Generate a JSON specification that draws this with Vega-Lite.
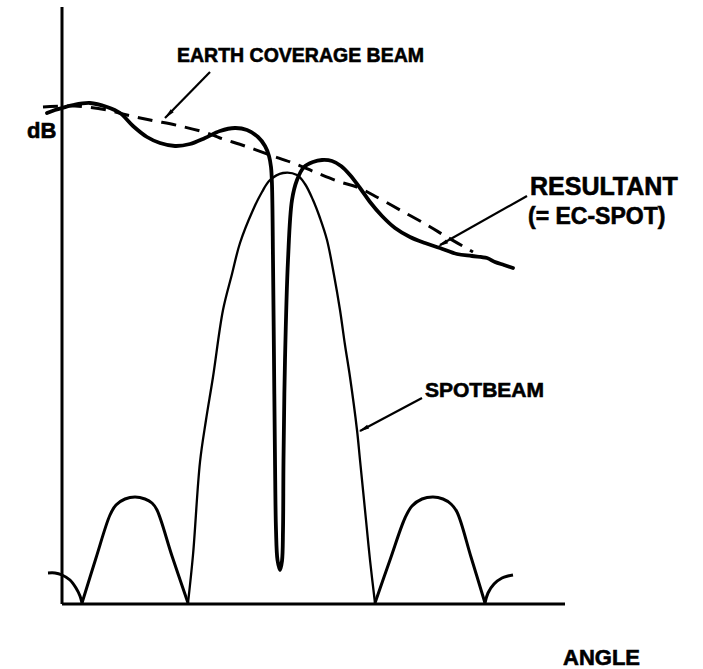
{
  "$schema": "https://vega.github.io/schema/vega-lite/v6.json",
  "width": 703,
  "height": 669,
  "autosize": {"type": "fit", "contains": "padding"},
  "padding": 0,
  "background": "white",
  "config": {"view": {"stroke": null}},
  "datasets": {
    "axes": [
      {"x": 62, "y": 7, "x2": 62, "y2": 604},
      {"x": 62, "y": 604, "x2": 565, "y2": 604}
    ],
    "curves": [
      {"s": "earth", "i": 1, "x": 43, "y": 107},
      {"s": "earth", "i": 2, "x": 75, "y": 106},
      {"s": "earth", "i": 3, "x": 107, "y": 110},
      {"s": "earth", "i": 4, "x": 127, "y": 115},
      {"s": "earth", "i": 5, "x": 150, "y": 120},
      {"s": "earth", "i": 6, "x": 180, "y": 126},
      {"s": "earth", "i": 7, "x": 207, "y": 133},
      {"s": "earth", "i": 8, "x": 220, "y": 138},
      {"s": "earth", "i": 9, "x": 245, "y": 146},
      {"s": "earth", "i": 10, "x": 270, "y": 155},
      {"s": "earth", "i": 11, "x": 293, "y": 163},
      {"s": "earth", "i": 12, "x": 317, "y": 173},
      {"s": "earth", "i": 13, "x": 340, "y": 182},
      {"s": "earth", "i": 14, "x": 357, "y": 187},
      {"s": "earth", "i": 15, "x": 373, "y": 195},
      {"s": "earth", "i": 16, "x": 400, "y": 210},
      {"s": "earth", "i": 17, "x": 427, "y": 225},
      {"s": "earth", "i": 18, "x": 447, "y": 237},
      {"s": "earth", "i": 19, "x": 473, "y": 252},

      {"s": "resultant", "i": 1, "x": 47, "y": 113},
      {"s": "resultant", "i": 2, "x": 55, "y": 110},
      {"s": "resultant", "i": 3, "x": 62, "y": 108},
      {"s": "resultant", "i": 4, "x": 73, "y": 105},
      {"s": "resultant", "i": 5, "x": 90, "y": 103},
      {"s": "resultant", "i": 6, "x": 107, "y": 107},
      {"s": "resultant", "i": 7, "x": 120, "y": 113},
      {"s": "resultant", "i": 8, "x": 133, "y": 126},
      {"s": "resultant", "i": 9, "x": 147, "y": 137},
      {"s": "resultant", "i": 10, "x": 160, "y": 143},
      {"s": "resultant", "i": 11, "x": 175, "y": 146},
      {"s": "resultant", "i": 12, "x": 190, "y": 144},
      {"s": "resultant", "i": 13, "x": 205, "y": 138},
      {"s": "resultant", "i": 14, "x": 220, "y": 131},
      {"s": "resultant", "i": 15, "x": 235, "y": 128},
      {"s": "resultant", "i": 16, "x": 247, "y": 130},
      {"s": "resultant", "i": 17, "x": 258, "y": 137},
      {"s": "resultant", "i": 18, "x": 265, "y": 146},
      {"s": "resultant", "i": 19, "x": 269, "y": 156},
      {"s": "resultant", "i": 20, "x": 271, "y": 167},
      {"s": "resultant", "i": 21, "x": 272, "y": 185},
      {"s": "resultant", "i": 22, "x": 273, "y": 260},
      {"s": "resultant", "i": 23, "x": 274, "y": 360},
      {"s": "resultant", "i": 24, "x": 275, "y": 460},
      {"s": "resultant", "i": 25, "x": 276, "y": 530},
      {"s": "resultant", "i": 26, "x": 277.5, "y": 560},
      {"s": "resultant", "i": 27, "x": 280, "y": 570},
      {"s": "resultant", "i": 28, "x": 282, "y": 561},
      {"s": "resultant", "i": 29, "x": 283, "y": 530},
      {"s": "resultant", "i": 30, "x": 283.5, "y": 460},
      {"s": "resultant", "i": 31, "x": 285, "y": 360},
      {"s": "resultant", "i": 32, "x": 288, "y": 260},
      {"s": "resultant", "i": 33, "x": 292, "y": 200},
      {"s": "resultant", "i": 34, "x": 297, "y": 180},
      {"s": "resultant", "i": 35, "x": 304, "y": 167},
      {"s": "resultant", "i": 36, "x": 313, "y": 162},
      {"s": "resultant", "i": 37, "x": 322, "y": 160},
      {"s": "resultant", "i": 38, "x": 332, "y": 161},
      {"s": "resultant", "i": 39, "x": 341, "y": 166},
      {"s": "resultant", "i": 40, "x": 350, "y": 175},
      {"s": "resultant", "i": 41, "x": 360, "y": 188},
      {"s": "resultant", "i": 42, "x": 370, "y": 202},
      {"s": "resultant", "i": 43, "x": 382, "y": 216},
      {"s": "resultant", "i": 44, "x": 395, "y": 228},
      {"s": "resultant", "i": 45, "x": 410, "y": 237},
      {"s": "resultant", "i": 46, "x": 425, "y": 243},
      {"s": "resultant", "i": 47, "x": 440, "y": 248},
      {"s": "resultant", "i": 48, "x": 457, "y": 254},
      {"s": "resultant", "i": 49, "x": 472, "y": 256},
      {"s": "resultant", "i": 50, "x": 487, "y": 258},
      {"s": "resultant", "i": 51, "x": 495, "y": 262},
      {"s": "resultant", "i": 52, "x": 504, "y": 265},
      {"s": "resultant", "i": 53, "x": 513, "y": 268},

      {"s": "spot", "i": 1, "x": 188, "y": 603},
      {"s": "spot", "i": 2, "x": 193, "y": 555},
      {"s": "spot", "i": 3, "x": 200, "y": 462},
      {"s": "spot", "i": 4, "x": 206, "y": 420},
      {"s": "spot", "i": 5, "x": 213, "y": 377},
      {"s": "spot", "i": 6, "x": 223, "y": 310},
      {"s": "spot", "i": 7, "x": 232, "y": 274},
      {"s": "spot", "i": 8, "x": 240, "y": 243},
      {"s": "spot", "i": 9, "x": 253, "y": 210},
      {"s": "spot", "i": 10, "x": 262, "y": 192},
      {"s": "spot", "i": 11, "x": 270, "y": 180},
      {"s": "spot", "i": 12, "x": 283, "y": 173},
      {"s": "spot", "i": 13, "x": 297, "y": 175},
      {"s": "spot", "i": 14, "x": 305, "y": 184},
      {"s": "spot", "i": 15, "x": 313, "y": 200},
      {"s": "spot", "i": 16, "x": 320, "y": 218},
      {"s": "spot", "i": 17, "x": 327, "y": 240},
      {"s": "spot", "i": 18, "x": 334, "y": 275},
      {"s": "spot", "i": 19, "x": 340, "y": 310},
      {"s": "spot", "i": 20, "x": 345, "y": 345},
      {"s": "spot", "i": 21, "x": 350, "y": 377},
      {"s": "spot", "i": 22, "x": 357, "y": 430},
      {"s": "spot", "i": 23, "x": 360, "y": 460},
      {"s": "spot", "i": 24, "x": 366, "y": 520},
      {"s": "spot", "i": 25, "x": 370, "y": 560},
      {"s": "spot", "i": 26, "x": 375, "y": 603},

      {"s": "side1", "i": 1, "x": 82, "y": 603},
      {"s": "side1", "i": 2, "x": 96, "y": 558},
      {"s": "side1", "i": 3, "x": 110, "y": 515},
      {"s": "side1", "i": 4, "x": 116, "y": 505},
      {"s": "side1", "i": 5, "x": 125, "y": 499},
      {"s": "side1", "i": 6, "x": 135, "y": 497},
      {"s": "side1", "i": 7, "x": 145, "y": 499},
      {"s": "side1", "i": 8, "x": 152, "y": 503},
      {"s": "side1", "i": 9, "x": 157, "y": 510},
      {"s": "side1", "i": 10, "x": 172, "y": 556},
      {"s": "side1", "i": 11, "x": 188, "y": 603},

      {"s": "side2", "i": 1, "x": 375, "y": 603},
      {"s": "side2", "i": 2, "x": 390, "y": 560},
      {"s": "side2", "i": 3, "x": 405, "y": 518},
      {"s": "side2", "i": 4, "x": 412, "y": 506},
      {"s": "side2", "i": 5, "x": 422, "y": 499},
      {"s": "side2", "i": 6, "x": 433, "y": 497},
      {"s": "side2", "i": 7, "x": 443, "y": 499},
      {"s": "side2", "i": 8, "x": 451, "y": 504},
      {"s": "side2", "i": 9, "x": 457, "y": 512},
      {"s": "side2", "i": 10, "x": 471, "y": 557},
      {"s": "side2", "i": 11, "x": 485, "y": 603},

      {"s": "arc1", "i": 1, "x": 48, "y": 573},
      {"s": "arc1", "i": 2, "x": 55, "y": 573},
      {"s": "arc1", "i": 3, "x": 62, "y": 575},
      {"s": "arc1", "i": 4, "x": 70, "y": 580},
      {"s": "arc1", "i": 5, "x": 76, "y": 588},
      {"s": "arc1", "i": 6, "x": 80, "y": 596},
      {"s": "arc1", "i": 7, "x": 82, "y": 603},

      {"s": "arc2", "i": 1, "x": 485, "y": 603},
      {"s": "arc2", "i": 2, "x": 488, "y": 593},
      {"s": "arc2", "i": 3, "x": 494, "y": 584},
      {"s": "arc2", "i": 4, "x": 502, "y": 578},
      {"s": "arc2", "i": 5, "x": 508, "y": 576},
      {"s": "arc2", "i": 6, "x": 513, "y": 575},

      {"s": "arrowEC", "i": 1, "x": 210, "y": 72},
      {"s": "arrowEC", "i": 2, "x": 165, "y": 118},
      {"s": "arrowRes", "i": 1, "x": 527, "y": 196},
      {"s": "arrowRes", "i": 2, "x": 440, "y": 245},
      {"s": "arrowSpot", "i": 1, "x": 422, "y": 398},
      {"s": "arrowSpot", "i": 2, "x": 360, "y": 431}
    ],
    "heads": [
      {"x": 168.5, "y": 114.5, "dir": 224.4},
      {"x": 442.5, "y": 244, "dir": 240.6},
      {"x": 363.5, "y": 429, "dir": 242}
    ],
    "labels": [
      {"t": "EARTH COVERAGE BEAM", "x": 177, "y": 62, "g": "m"},
      {"t": "RESULTANT", "x": 530, "y": 195, "g": "l"},
      {"t": "(= EC-SPOT)", "x": 528, "y": 224, "g": "l2"},
      {"t": "SPOTBEAM", "x": 425, "y": 397, "g": "sb"},
      {"t": "dB", "x": 27, "y": 138, "g": "s"},
      {"t": "ANGLE", "x": 563, "y": 665, "g": "s"}
    ]
  },
  "layer": [
    {
      "data": {"name": "axes"},
      "mark": {"type": "rule", "color": "black", "strokeWidth": 3},
      "encoding": {
        "x": {"field": "x", "type": "quantitative", "scale": {"domain": [0, 703], "nice": false, "zero": false}, "axis": null},
        "y": {"field": "y", "type": "quantitative", "scale": {"domain": [0, 669], "nice": false, "zero": false, "reverse": true}, "axis": null},
        "x2": {"field": "x2"},
        "y2": {"field": "y2"}
      }
    },
    {
      "data": {"name": "curves"},
      "transform": [{"filter": "datum.s === 'earth'"}],
      "mark": {"type": "line", "color": "black", "strokeWidth": 3, "strokeDash": [15, 9], "interpolate": "catmull-rom"},
      "encoding": {
        "x": {"field": "x", "type": "quantitative", "scale": {"domain": [0, 703], "nice": false, "zero": false}, "axis": null},
        "y": {"field": "y", "type": "quantitative", "scale": {"domain": [0, 669], "nice": false, "zero": false, "reverse": true}, "axis": null},
        "detail": {"field": "s"},
        "order": {"field": "i", "type": "quantitative"}
      }
    },
    {
      "data": {"name": "curves"},
      "transform": [{"filter": "datum.s === 'resultant'"}],
      "mark": {"type": "line", "color": "black", "strokeWidth": 3.8, "interpolate": "catmull-rom", "strokeJoin": "round", "strokeCap": "round"},
      "encoding": {
        "x": {"field": "x", "type": "quantitative", "scale": {"domain": [0, 703], "nice": false, "zero": false}, "axis": null},
        "y": {"field": "y", "type": "quantitative", "scale": {"domain": [0, 669], "nice": false, "zero": false, "reverse": true}, "axis": null},
        "detail": {"field": "s"},
        "order": {"field": "i", "type": "quantitative"}
      }
    },
    {
      "data": {"name": "curves"},
      "transform": [{"filter": "datum.s === 'spot'"}],
      "mark": {"type": "line", "color": "black", "strokeWidth": 2.3, "interpolate": "catmull-rom"},
      "encoding": {
        "x": {"field": "x", "type": "quantitative", "scale": {"domain": [0, 703], "nice": false, "zero": false}, "axis": null},
        "y": {"field": "y", "type": "quantitative", "scale": {"domain": [0, 669], "nice": false, "zero": false, "reverse": true}, "axis": null},
        "detail": {"field": "s"},
        "order": {"field": "i", "type": "quantitative"}
      }
    },
    {
      "data": {"name": "curves"},
      "transform": [{"filter": "indexof(['side1','side2','arc1','arc2'], datum.s) >= 0"}],
      "mark": {"type": "line", "color": "black", "strokeWidth": 3, "interpolate": "catmull-rom"},
      "encoding": {
        "x": {"field": "x", "type": "quantitative", "scale": {"domain": [0, 703], "nice": false, "zero": false}, "axis": null},
        "y": {"field": "y", "type": "quantitative", "scale": {"domain": [0, 669], "nice": false, "zero": false, "reverse": true}, "axis": null},
        "detail": {"field": "s"},
        "order": {"field": "i", "type": "quantitative"}
      }
    },
    {
      "data": {"name": "curves"},
      "transform": [{"filter": "indexof(['arrowEC','arrowRes','arrowSpot'], datum.s) >= 0"}],
      "mark": {"type": "line", "color": "black", "strokeWidth": 2.2},
      "encoding": {
        "x": {"field": "x", "type": "quantitative", "scale": {"domain": [0, 703], "nice": false, "zero": false}, "axis": null},
        "y": {"field": "y", "type": "quantitative", "scale": {"domain": [0, 669], "nice": false, "zero": false, "reverse": true}, "axis": null},
        "detail": {"field": "s"},
        "order": {"field": "i", "type": "quantitative"}
      }
    },
    {
      "data": {"name": "heads"},
      "mark": {"type": "point", "filled": true, "color": "black", "opacity": 1, "shape": "M0,-1L0.4,1L-0.4,1Z", "size": 110},
      "encoding": {
        "x": {"field": "x", "type": "quantitative", "scale": {"domain": [0, 703], "nice": false, "zero": false}, "axis": null},
        "y": {"field": "y", "type": "quantitative", "scale": {"domain": [0, 669], "nice": false, "zero": false, "reverse": true}, "axis": null},
        "angle": {"field": "dir", "type": "quantitative", "scale": null}
      }
    },
    {
      "data": {"name": "labels"},
      "transform": [{"filter": "datum.g === 'm'"}],
      "mark": {"type": "text", "align": "left", "baseline": "alphabetic", "font": "Liberation Sans", "fontWeight": "bold", "fontSize": 19.5, "color": "black", "stroke": "black", "strokeWidth": 0.6},
      "encoding": {
        "x": {"field": "x", "type": "quantitative", "scale": {"domain": [0, 703], "nice": false, "zero": false}, "axis": null},
        "y": {"field": "y", "type": "quantitative", "scale": {"domain": [0, 669], "nice": false, "zero": false, "reverse": true}, "axis": null},
        "text": {"field": "t"}
      }
    },
    {
      "data": {"name": "labels"},
      "transform": [{"filter": "datum.g === 'l'"}],
      "mark": {"type": "text", "align": "left", "baseline": "alphabetic", "font": "Liberation Sans", "fontWeight": "bold", "fontSize": 25, "color": "black", "stroke": "black", "strokeWidth": 0.6},
      "encoding": {
        "x": {"field": "x", "type": "quantitative", "scale": {"domain": [0, 703], "nice": false, "zero": false}, "axis": null},
        "y": {"field": "y", "type": "quantitative", "scale": {"domain": [0, 669], "nice": false, "zero": false, "reverse": true}, "axis": null},
        "text": {"field": "t"}
      }
    },
    {
      "data": {"name": "labels"},
      "transform": [{"filter": "datum.g === 'l2'"}],
      "mark": {"type": "text", "align": "left", "baseline": "alphabetic", "font": "Liberation Sans", "fontWeight": "bold", "fontSize": 23, "color": "black", "stroke": "black", "strokeWidth": 0.6},
      "encoding": {
        "x": {"field": "x", "type": "quantitative", "scale": {"domain": [0, 703], "nice": false, "zero": false}, "axis": null},
        "y": {"field": "y", "type": "quantitative", "scale": {"domain": [0, 669], "nice": false, "zero": false, "reverse": true}, "axis": null},
        "text": {"field": "t"}
      }
    },
    {
      "data": {"name": "labels"},
      "transform": [{"filter": "datum.g === 'sb'"}],
      "mark": {"type": "text", "align": "left", "baseline": "alphabetic", "font": "Liberation Sans", "fontWeight": "bold", "fontSize": 21, "color": "black", "stroke": "black", "strokeWidth": 0.6},
      "encoding": {
        "x": {"field": "x", "type": "quantitative", "scale": {"domain": [0, 703], "nice": false, "zero": false}, "axis": null},
        "y": {"field": "y", "type": "quantitative", "scale": {"domain": [0, 669], "nice": false, "zero": false, "reverse": true}, "axis": null},
        "text": {"field": "t"}
      }
    },
    {
      "data": {"name": "labels"},
      "transform": [{"filter": "datum.g === 's'"}],
      "mark": {"type": "text", "align": "left", "baseline": "alphabetic", "font": "Liberation Sans", "fontWeight": "bold", "fontSize": 22, "color": "black", "stroke": "black", "strokeWidth": 0.6},
      "encoding": {
        "x": {"field": "x", "type": "quantitative", "scale": {"domain": [0, 703], "nice": false, "zero": false}, "axis": null},
        "y": {"field": "y", "type": "quantitative", "scale": {"domain": [0, 669], "nice": false, "zero": false, "reverse": true}, "axis": null},
        "text": {"field": "t"}
      }
    }
  ]
}
